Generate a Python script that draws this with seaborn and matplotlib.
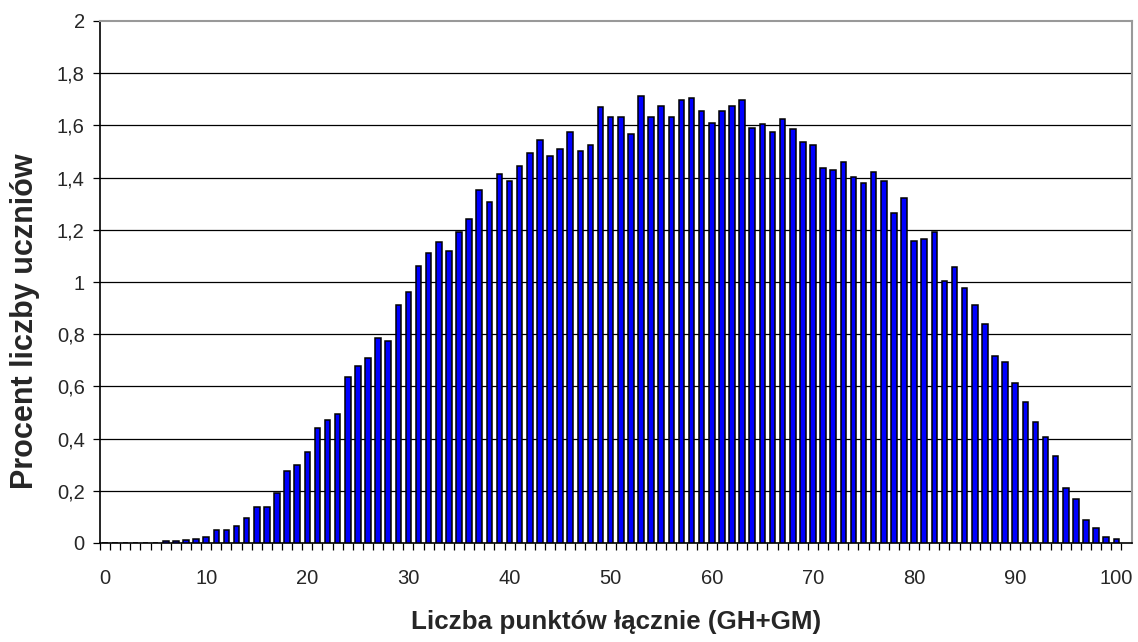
import matplotlib
matplotlib.use("Agg")
import matplotlib.pyplot as plt
import seaborn as sns
import pandas as pd
from matplotlib import font_manager
from matplotlib.ticker import FixedLocator, FuncFormatter

# Total points scored (GH+GM) and the share of students with that score, in %
points = list(range(101))
percent = [
    0, 0, 0, 0, 0, 0, 0.008, 0.008, 0.01, 0.016,
    0.024, 0.05, 0.05, 0.066, 0.097, 0.139, 0.139, 0.19, 0.276, 0.298,
    0.349, 0.442, 0.471, 0.493, 0.637, 0.679, 0.71, 0.787, 0.773, 0.911,
    0.961, 1.062, 1.112, 1.155, 1.12, 1.191, 1.242, 1.352, 1.307, 1.415,
    1.386, 1.446, 1.494, 1.545, 1.481, 1.509, 1.574, 1.503, 1.524, 1.670,
    1.633, 1.633, 1.568, 1.712, 1.633, 1.675, 1.633, 1.697, 1.706, 1.655,
    1.610, 1.655, 1.675, 1.697, 1.590, 1.604, 1.576, 1.624, 1.588, 1.538,
    1.525, 1.437, 1.431, 1.459, 1.401, 1.380, 1.423, 1.386, 1.265, 1.321,
    1.156, 1.163, 1.192, 1.005, 1.056, 0.976, 0.911, 0.838, 0.715, 0.695,
    0.614, 0.541, 0.462, 0.405, 0.333, 0.209, 0.167, 0.088, 0.059, 0.023,
    0.015,
]
x_tick_labels = [str(v) for v in range(0, 101, 10)]
y_ticks = [0, 0.2, 0.4, 0.6, 0.8, 1.0, 1.2, 1.4, 1.6, 1.8, 2.0]

x_title = "Liczba punktów łącznie (GH+GM)"
y_title = "Procent liczby uczniów"


def pick_family(candidates):
    for fam in candidates:
        try:
            font_manager.findfont(font_manager.FontProperties(family=fam),
                                  fallback_to_default=False)
            return fam
        except ValueError:
            continue
    return "DejaVu Sans"


sns.set_style("white")
family = pick_family(["Liberation Sans", "Arial"])
plt.rcParams["font.family"] = [family, "DejaVu Sans"]

df = pd.DataFrame({"points": points, "percent": percent})

W, H = 1138, 642
fig = plt.figure(figsize=(W / 100, H / 100), dpi=100)
L, R, T, B = 100, 1132, 21, 543
ax = fig.add_axes([L / W, 1 - B / H, (R - L) / W, (B - T) / H])

sns.barplot(data=df, x="points", y="percent", order=points, color="#0000ff",
            saturation=1, edgecolor="black", linewidth=1.1, width=0.55, ax=ax,
            errorbar=None, zorder=3)

# a little spare room after the last category, before the plot frame
ax.set_xlim(-0.5, len(points) + 0.55)
ax.set_ylim(0, 2)

# horizontal gridlines
for v in y_ticks[1:-1]:
    ax.axhline(v, color="black", linewidth=0.9, zorder=1)

# category labels every ten points, tick marks between categories
ax.xaxis.set_major_locator(FixedLocator(list(range(0, 101, 10))))
ax.set_xticklabels(x_tick_labels)
ax.xaxis.set_minor_locator(FixedLocator([i - 0.5 for i in range(len(points) + 1)]))
ax.tick_params(axis="x", which="major", length=0, pad=19, labelsize=14.5)
ax.tick_params(axis="x", which="minor", length=5, width=0.9, direction="out",
               color="black", bottom=True)

ax.yaxis.set_major_locator(FixedLocator(y_ticks))
ax.yaxis.set_major_formatter(FuncFormatter(lambda v, _: f"{v:g}".replace(".", ",")))
ax.tick_params(axis="y", which="major", length=5, width=0.9, direction="out",
               color="black", left=True, pad=6, labelsize=14.5)

for side in ["left", "bottom"]:
    ax.spines[side].set_color("black")
    ax.spines[side].set_linewidth(1.2)
for side in ["top", "right"]:
    ax.spines[side].set_visible(True)
    ax.spines[side].set_color("#999999")
    ax.spines[side].set_linewidth(1.5)

ax.set_xlabel(x_title, fontsize=18.7, fontweight="bold")
ax.set_ylabel(y_title, fontsize=22, fontweight="bold")
ax.xaxis.set_label_coords(0.5, -0.128)
ax.yaxis.set_label_coords(-0.058, 0.425)

fig.savefig("out.png", dpi=100)
